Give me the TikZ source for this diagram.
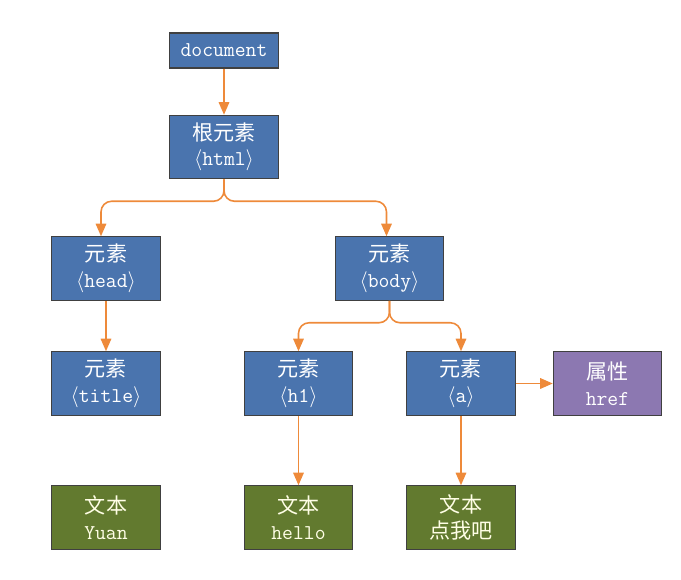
\documentclass[tikz,border=0pt]{standalone}
\usepackage{fontspec}
\newfontfamily\cjk{Noto Sans CJK SC}
\usetikzlibrary{arrows.meta}
\definecolor{elemblue}{HTML}{4A74AE}
\definecolor{textgreen}{HTML}{627A2F}
\definecolor{attrpurple}{HTML}{8C78B1}
\definecolor{linkorange}{HTML}{EE8A3A}

\begin{document}
\begin{tikzpicture}[x=0.02cm,y=-0.02cm,
    box/.style={draw=black!75,line width=0.6pt,minimum width=2.17cm,minimum height=1.27cm,
      align=center,text=white,font=\fontsize{12}{14.5}\selectfont\ttfamily,inner sep=0pt},
    elem/.style={box,fill=elemblue},
    txt/.style={box,fill=textgreen,text=white!90!yellow},
    attr/.style={box,fill=attrpurple},
    link/.style={linkorange,line width=0.9pt,rounded corners=6pt,-{Triangle[length=2.5mm,width=2.1mm]}}]
    \useasboundingbox (0,0) rectangle (681,580);

    % Top of the tree
    \node[elem,minimum height=0.7cm] (doc) at (224,50.5) {document};
    \node[elem] (html) at (224,147) {{\cjk 根元素}\\$\langle$html$\rangle$};

    % Second level
    \node[elem] (head) at (106,268.5) {{\cjk 元素}\\$\langle$head$\rangle$};
    \node[elem] (body) at (389.5,268.5) {{\cjk 元素}\\$\langle$body$\rangle$};

    % Third level
    \node[elem] (title) at (106,383.5) {{\cjk 元素}\\$\langle$title$\rangle$};
    \node[elem] (h1) at (298.5,383.5) {{\cjk 元素}\\$\langle$h1$\rangle$};
    \node[elem] (a) at (461,383.5) {{\cjk 元素}\\$\langle$a$\rangle$};
    \node[attr] (href) at (607.5,383.5) {{\cjk 属性}\\href};

    % Text nodes
    \node[txt] (yuan) at (106,517.5) {{\cjk 文本}\\Yuan};
    \node[txt] (hello) at (298.5,517.5) {{\cjk 文本}\\hello};
    \node[txt] (click) at (461,517.5) {{\cjk 文本}\\{\cjk 点我吧}};

    % Connectors
    \draw[link] (doc) -- (html);
    \draw[link] (html.south) -- ++(0,22) -| ([xshift=-0.1cm]head.north);
    \draw[link] (html.south) -- ++(0,22) -| ([xshift=-0.06cm]body.north);
    \draw[link] (head) -- (title);
    \draw[link] (body.south) -- ++(0,22) -| (h1.north);
    \draw[link] (body.south) -- ++(0,22) -| (a.north);
    \draw[link] (h1) -- (hello);
    \draw[link] (a) -- (click);
    \draw[link] (a) -- (href);
\end{tikzpicture}
\end{document}
